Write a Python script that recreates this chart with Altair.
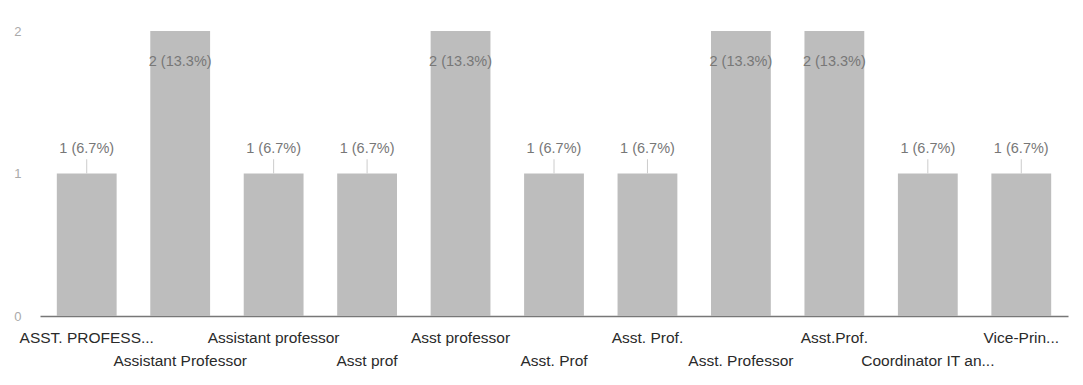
import altair as alt
import pandas as pd

categories = ["ASST. PROFESS...", "Assistant Professor", "Assistant professor", "Asst prof",
              "Asst professor", "Asst. Prof", "Asst. Prof.", "Asst. Professor", "Asst.Prof.",
              "Coordinator IT an...", "Vice-Prin..."]
counts = [1, 2, 1, 1, 2, 1, 1, 2, 2, 1, 1]
percents = ["6.7%", "13.3%", "6.7%", "6.7%", "13.3%", "6.7%", "6.7%", "13.3%", "13.3%", "6.7%", "6.7%"]
y_ticks = [0, 1, 2]

df = pd.DataFrame({"cat": categories, "value": counts, "pct": percents})
df["label"] = df["value"].astype(str) + " (" + df["pct"] + ")"

odd_labels = [c for i, c in enumerate(categories) if i % 2 == 1]
odd_expr = "[" + ",".join("'" + c + "'" for c in odd_labels) + "]"

xaxis = alt.Axis(labelAngle=0, labelFont="Liberation Sans", labelFontSize=15.5,
                 labelColor="#2a2a2a", labelPadding=14, labelLineHeight=23,
                 labelLimit=300, ticks=False, domain=False, labelOverlap=False,
                 labelExpr=f"indexof({odd_expr}, datum.value) >= 0 ? ['', datum.value] : datum.value")
xscale = alt.Scale(paddingInner=0.36, paddingOuter=0.18)
yaxis = alt.Axis(values=y_ticks, grid=True, ticks=False, domain=False,
                 gridColor={"condition": {"test": "datum.value === 0", "value": "#777777"},
                            "value": "#ffffff"},
                 gridWidth=1.5, gridOpacity=1,
                 labelFont="Liberation Sans", labelFontSize=13, labelOverlap=False,
                 labelFlush=False, labelBound=False, labelColor="#aaaaaa", labelPadding=19,
                 labelExpr="datum.value")
yscale = alt.Scale(domain=[0, 2], nice=False)


def X():
    return alt.X("cat:N", sort=categories, title=None, scale=xscale, axis=xaxis)


def Y(field):
    return alt.Y(field, title=None, scale=yscale, axis=yaxis)


base = alt.Chart(df)

bars = base.mark_bar(color="#bdbdbd").encode(
    x=X(),
    y=Y("value:Q"),
)

stems = base.transform_filter("datum.value < 2").transform_calculate(
    top="datum.value + 0.1"
).mark_rule(color="#cccccc", strokeWidth=1).encode(
    x=X(),
    y=Y("value:Q"),
    y2="top:Q",
)

labels = base.transform_calculate(
    pos="datum.value >= 2 ? datum.value - 0.22 : datum.value + 0.17"
).mark_text(font="Liberation Sans", fontSize=14.5, color="#777777", baseline="middle").encode(
    x=X(),
    y=Y("pos:Q"),
    text="label:N",
)

chart = alt.layer(bars, stems, labels).properties(
    width=1028, height=285, background="white",
    padding={"left": 5, "top": 17, "right": 5, "bottom": 5},
).configure_view(strokeWidth=0, stroke="transparent").configure_axis(gridWidth=1.5)

chart.save("out.html", embed_options={"renderer": "svg", "actions": False})
